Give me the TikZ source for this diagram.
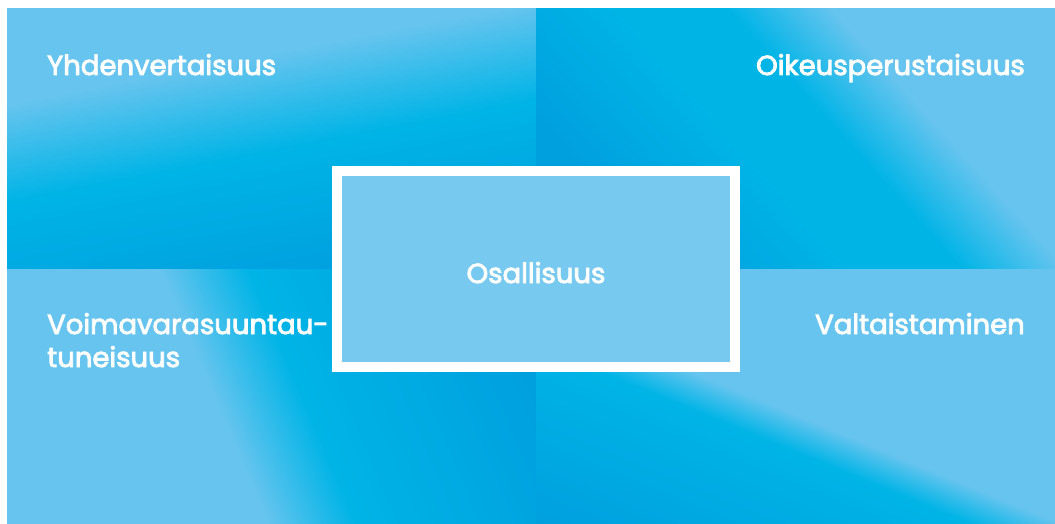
\documentclass[tikz,border=0pt]{standalone}
\usepackage{fontspec}
\newfontfamily\labfont{Poppins}[FakeBold=3]
\definecolor{qL}{RGB}{102,196,238}
\definecolor{qC}{RGB}{0,180,230}
\definecolor{qD}{RGB}{0,160,222}
\definecolor{boxfill}{RGB}{120,201,239}
\pgfdeclarehorizontalshading{shTL}{100bp}{color(0bp)=(qL); color(43bp)=(qL); color(51bp)=(qC); color(62bp)=(qD); color(100bp)=(qD)}
\pgfdeclarehorizontalshading{shTR}{100bp}{color(0bp)=(qD); color(35.1bp)=(qD); color(46bp)=(qC); color(53bp)=(qC); color(59.5bp)=(qL); color(100bp)=(qL)}
\pgfdeclarehorizontalshading{shBL}{100bp}{color(0bp)=(qL); color(45.6bp)=(qL); color(52.4bp)=(qC); color(70.5bp)=(qD); color(100bp)=(qD)}
\pgfdeclarehorizontalshading{shBR}{100bp}{color(0bp)=(qL); color(51.4bp)=(qL); color(54.3bp)=(qC); color(68bp)=(qD); color(100bp)=(qD)}
\tikzset{
  lab/.style={text=white, font=\labfont\fontsize{27.5}{33}\selectfont, inner sep=0pt},
  centrebox/.style={draw=white, line width=10pt, fill=boxfill, minimum width=398pt, minimum height=196pt, inner sep=0pt}
}
\begin{document}
\begin{tikzpicture}[x=1pt,y=-1pt]
\useasboundingbox (0,0) rectangle (1055,524);
\fill[white] (0,0) rectangle (1055,524);
% top left
\begin{scope}
\clip (7,9) rectangle (536,269);
\shade[shading=shTL, shading angle=-79] (-28.5,-161) rectangle (571.5,439);
\end{scope}
% top right
\begin{scope}
\clip (536,9) rectangle (1055,269);
\shade[shading=shTR, shading angle=42] (495.5,-161) rectangle (1095.5,439);
\end{scope}
% bottom left
\begin{scope}
\clip (7,269) rectangle (536,524);
\shade[shading=shBL, shading angle=23] (-28.5,96.5) rectangle (571.5,696.5);
\end{scope}
% bottom right
\begin{scope}
\clip (536,269) rectangle (1055,524);
\shade[shading=shBR, shading angle=247.7] (495.5,96.5) rectangle (1095.5,696.5);
\end{scope}
\node[lab, anchor=base west] (yh) at (47,75) {Yhdenvertaisuus};
\node[lab, anchor=base east] (oi) at (1025,75) {Oikeusperustaisuus};
\node[lab, anchor=base west, align=left] (vo) at (47,367) {Voimavarasuuntau-\\tuneisuus};
\node[lab, anchor=base east] (va) at (1025,334) {Valtaistaminen};
\node[centrebox] (os) at (536,269) {};
\node[lab, anchor=base] (ost) at (536,283) {Osallisuus};
\end{tikzpicture}
\end{document}
